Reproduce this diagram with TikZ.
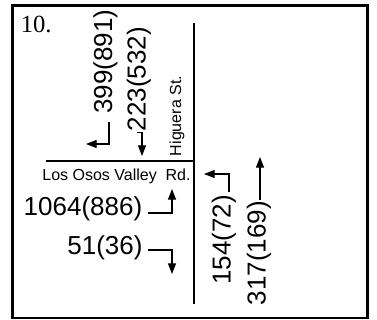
\documentclass[tikz,border=0pt]{standalone}
\usepackage{fontspec}
\setmainfont{Liberation Serif}
\setsansfont{Liberation Sans}
\usetikzlibrary{arrows.meta}

\begin{document}
\begin{tikzpicture}[
    x=0.75pt, y=-0.75pt,
    vol/.style={inner sep=0pt, font=\sffamily\fontsize{19.5}{20}\selectfont},
    street/.style={inner sep=0pt, font=\sffamily\fontsize{12}{13}\selectfont},
    road/.style={line width=1.5pt},
    frame/.style={line width=2.2pt},
    turn/.style={line width=0.9pt, -{Triangle[length=8pt,width=6pt]}}
]
    \useasboundingbox (0,0) rectangle (377,320);

    % frame and streets
    \coordinate (fnw) at (12.5,5.5);
    \coordinate (fse) at (367.5,318);
    \draw[frame] (fnw) rectangle (fse);
    \coordinate (hn) at (194,23);
    \coordinate (hs) at (194,304);
    \coordinate (lw) at (46,161);
    \coordinate (le) at (194,161);
    \draw[road] (hn) -- (hs);
    \draw[road] (lw) -- (le);

    \node[inner sep=0pt, anchor=base west, font=\rmfamily\fontsize{18.5}{20}\selectfont] (num) at (20.5,33) {10.};
    \node[street, rotate=90, anchor=base] (hig) at (181,116) {Higuera St.};
    \node[street, anchor=base] (los) at (116.5,180) {Los Osos Valley\ \ Rd.};

    % volumes
    \node[vol, rotate=90] (sbl) at (105.5,61.5) {399(891)};
    \node[vol, rotate=90] (sbt) at (139,79) {223(532)};
    \node[vol] (ebl) at (83,209) {1064(886)};
    \node[vol] (ebr) at (105,248) {51(36)};
    \node[vol, rotate=90] (wbl) at (224,240) {154(72)};
    \node[vol, rotate=90] (wbt) at (259,253) {317(169)};

    \coordinate (sbltip) at (86,144);
    \coordinate (sbttip) at (142,156);
    \coordinate (ebltip) at (172,189);
    \coordinate (ebrtip) at (172,274);
    \coordinate (wbltip) at (204,174);
    \coordinate (wbttip) at (260,157);

    \draw[turn] ([shift={(3.5,8)}]sbl.west) |- (sbltip);
    \draw[turn] ([shift={(-2,1)}]sbt.west) -| (sbttip);
    \draw[turn] ([shift={(5,4)}]ebl.east) -| (ebltip);
    \draw[turn] ([shift={(5,2)}]ebr.east) -| (ebrtip);
    \draw[turn] ([shift={(5,-3)}]wbl.east) |- (wbltip);
    \draw[turn] ([shift={(1,-1)}]wbt.east) -- (wbttip);
\end{tikzpicture}
\end{document}
